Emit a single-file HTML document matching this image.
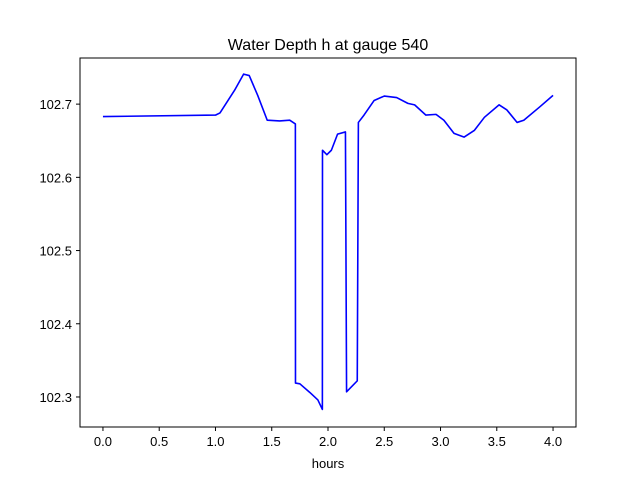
<!DOCTYPE html>
<html><head><meta charset="utf-8"><style>
body{margin:0;background:#fff;}
svg{display:block;font-family:"Liberation Sans","DejaVu Sans",sans-serif;}
</style></head><body>
<svg id="chart" width="640" height="480">
<rect x="0" y="0" width="640" height="480" fill="#fff"/>
<text x="328" y="50" text-anchor="middle" font-size="16">Water Depth h at gauge 540</text>
<g id="plot"></g>
<rect x="80" y="58" width="496" height="369" fill="none" stroke="#000" stroke-width="1"/>
<text x="328" y="468" text-anchor="middle" font-size="13">hours</text>
</svg>
<script>
const hours=[0,1.0,1.04,1.17,1.25,1.3,1.375,1.46,1.57,1.66,1.71,1.711,1.75,1.84,1.91,1.95,1.951,1.99,2.03,2.085,2.155,2.165,2.26,2.27,2.32,2.41,2.5,2.61,2.71,2.77,2.87,2.96,3.03,3.12,3.21,3.30,3.39,3.52,3.59,3.68,3.74,3.88,4.0];
const depth=[102.683,102.685,102.688,102.719,102.741,102.739,102.712,102.678,102.677,102.678,102.673,102.319,102.318,102.306,102.296,102.283,102.637,102.631,102.637,102.659,102.662,102.307,102.322,102.675,102.685,102.705,102.711,102.709,102.701,102.699,102.685,102.686,102.678,102.660,102.655,102.664,102.682,102.699,102.692,102.675,102.678,102.696,102.712];
const xTicks=[0,0.5,1.0,1.5,2.0,2.5,3.0,3.5,4.0];
const yTicks=[102.3,102.4,102.5,102.6,102.7];
const X0=80,X1=576,Y0=427,Y1=58;
const xMin=-0.204,xMax=4.204,yMin=102.259,yMax=102.763;
const sx=v=>X0+(v-xMin)/(xMax-xMin)*(X1-X0);
const sy=v=>Y0-(v-yMin)/(yMax-yMin)*(Y0-Y1);
const NS="http://www.w3.org/2000/svg";
const g=document.getElementById('plot');
xTicks.forEach(t=>{
 const l=document.createElementNS(NS,'line');
 l.setAttribute('x1',sx(t));l.setAttribute('x2',sx(t));l.setAttribute('y1',427);l.setAttribute('y2',431);l.setAttribute('stroke','#000');
 
 
 g.appendChild(l);
 const tx=document.createElementNS(NS,'text');
 tx.setAttribute('x',sx(t));tx.setAttribute('y',446);tx.setAttribute('text-anchor','middle');tx.setAttribute('font-size','13');
 tx.textContent=t.toFixed(1);
 
 
 g.appendChild(tx);
});
yTicks.forEach(t=>{
 const l=document.createElementNS(NS,'line');
 l.setAttribute('x1',76);l.setAttribute('x2',80);l.setAttribute('y1',sy(t));l.setAttribute('y2',sy(t));l.setAttribute('stroke','#000');
 
 
 g.appendChild(l);
 const tx=document.createElementNS(NS,'text');
 tx.setAttribute('x',72);tx.setAttribute('y',sy(t)+5);tx.setAttribute('text-anchor','end');tx.setAttribute('font-size','13');
 tx.textContent=t.toFixed(1);
 
 
 g.appendChild(tx);
});
const p=document.createElementNS(NS,'polyline');
p.setAttribute('points',hours.map((h,i)=>sx(h)+','+sy(depth[i])).join(' '));
p.setAttribute('fill','none');p.setAttribute('stroke','#0000ff');p.setAttribute('stroke-width','1.6');p.setAttribute('stroke-linejoin','round');


g.appendChild(p);
</script>
</body></html>
